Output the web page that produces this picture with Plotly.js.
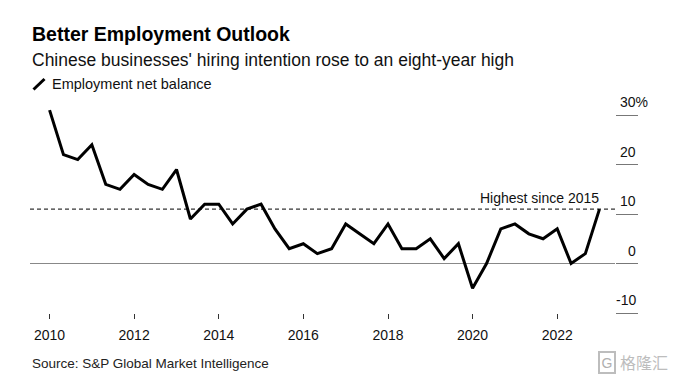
<!DOCTYPE html>
<html>
<head>
<meta charset="utf-8">
<script src="https://cdn.plot.ly/plotly-3.0.1.min.js"></script>
<style>
  html, body { margin: 0; padding: 0; background: #fff; }
  #chart { width: 673px; height: 379px; }
</style>
</head>
<body>
<div id="chart"></div>
<script>
// ---- Data ----
const seriesName = "Employment net balance";
const dates = [
  "2010-01-01","2010-05-01","2010-09-01",
  "2011-01-01","2011-05-01","2011-09-01",
  "2012-01-01","2012-05-01","2012-09-01",
  "2013-01-01","2013-05-01","2013-09-01",
  "2014-01-01","2014-05-01","2014-09-01",
  "2015-01-01","2015-05-01","2015-09-01",
  "2016-01-01","2016-05-01","2016-09-01",
  "2017-01-01","2017-05-01","2017-09-01",
  "2018-01-01","2018-05-01","2018-09-01",
  "2019-01-01","2019-05-01","2019-09-01",
  "2020-01-01","2020-05-01","2020-09-01",
  "2021-01-01","2021-05-01","2021-09-01",
  "2022-01-01","2022-05-01","2022-09-01",
  "2023-01-01"
];
const netBalance = [
  31, 22, 21,
  24, 16, 15,
  18, 16, 15,
  19, 9, 12,
  12, 8, 11,
  12, 7, 3,
  4, 2, 3,
  8, 6, 4,
  8, 3, 3,
  5, 1, 4,
  -5, 0, 7,
  8, 6, 5,
  7, 0, 2,
  11
];
const highestLevel = 11;
const highestLabel = "Highest since 2015";
const xTickVals = ["2010-01-01","2012-01-01","2014-01-01","2016-01-01","2018-01-01","2020-01-01","2022-01-01"];
const xTickText = ["2010","2012","2014","2016","2018","2020","2022"];
const yTickVals = [-10, 0, 10, 20, 30];
const yTickText = ["-10", "0", "10", "20", "30%"];

const titleText = "Better Employment Outlook";
const subtitleText = "Chinese businesses' hiring intention rose to an eight-year high";
const sourceText = "Source: S&P Global Market Intelligence";

// ---- Layout helpers (pixel -> paper) ----
const W = 673, H = 379;
const M = { l: 30, r: 58, t: 100, b: 66 };
const PW = W - M.l - M.r, PH = H - M.t - M.b;
const px = x => (x - M.l) / PW;
const py = y => (H - M.b - y) / PH;

const FONT = '"Liberation Sans", Arial, Helvetica, sans-serif';

const trace = {
  x: dates,
  y: netBalance,
  type: "scatter",
  mode: "lines",
  name: seriesName,
  line: { color: "#000", width: 3 },
  hoverinfo: "skip",
  showlegend: false
};

const annotations = [
  { text: "<b>" + titleText + "</b>", xref: "paper", yref: "paper", x: px(30), y: py(33.5), xanchor: "left", yanchor: "middle", showarrow: false, font: { family: FONT, size: 19.5, color: "#000" } },
  { text: subtitleText, xref: "paper", yref: "paper", x: px(30), y: py(60), xanchor: "left", yanchor: "middle", showarrow: false, font: { family: FONT, size: 17.5, color: "#111" } },
  { text: seriesName, xref: "paper", yref: "paper", x: px(50), y: py(84.5), xanchor: "left", yanchor: "middle", showarrow: false, font: { family: FONT, size: 14.5, color: "#111" } },
  { text: highestLabel, xref: "paper", yref: "y", x: px(601), y: highestLevel, xanchor: "right", yanchor: "middle", yshift: 11, showarrow: false, font: { family: FONT, size: 14, color: "#111" } },
  { text: sourceText, xref: "paper", yref: "paper", x: px(30), y: py(363), xanchor: "left", yanchor: "middle", showarrow: false, font: { family: FONT, size: 13.5, color: "#222" } },
  { text: "G", xref: "paper", yref: "paper", x: px(606.5), y: py(362), xanchor: "center", yanchor: "middle", showarrow: false, font: { family: FONT, size: 14, color: "#b0b0b0" }, bordercolor: "#bdbdbd", borderwidth: 2, borderpad: 1.5 },
  { text: "格隆汇", xref: "paper", yref: "paper", x: px(618), y: py(362), xanchor: "left", yanchor: "middle", showarrow: false, font: { family: '"Noto Sans CJK SC", sans-serif', size: 16, color: "#bdbdbd" } }
];

yTickVals.forEach((v, i) => {
  const t = yTickText[i];
  annotations.push({
    text: t, xref: "paper", yref: "y", x: px(638), y: v,
    xanchor: "right", yanchor: "middle", yshift: 13,
    xshift: t.indexOf("%") >= 0 ? 12 : 0,
    showarrow: false, font: { family: FONT, size: 14, color: "#111" }
  });
});

const shapes = [
  { type: "line", xref: "paper", yref: "y", x0: 0, x1: 1, y0: highestLevel, y1: highestLevel, line: { color: "#000", width: 1, dash: "4px,3px" } },
  { type: "line", xref: "paper", yref: "paper", x0: px(33.5), y0: py(89.5), x1: px(44.5), y1: py(79), line: { color: "#000", width: 3 } }
];

const layout = {
  width: W, height: H,
  margin: M,
  paper_bgcolor: "#fff",
  plot_bgcolor: "#fff",
  font: { family: FONT, color: "#111" },
  showlegend: false,
  xaxis: {
    type: "date",
    range: ["2009-07-16", "2023-05-15"],
    tickvals: xTickVals,
    ticktext: xTickText,
    ticks: "outside",
    ticklen: 5,
    tickwidth: 1,
    tickcolor: "#333",
    ticklabelstandoff: 4,
    tickfont: { family: FONT, size: 14, color: "#111" },
    showgrid: false,
    zeroline: false,
    showline: false,
    fixedrange: true
  },
  yaxis: {
    side: "right",
    range: [-10, 33.05],
    tickvals: yTickVals,
    showticklabels: false,
    ticks: "outside",
    ticklen: 22,
    tickwidth: 1,
    tickcolor: "#777",
    showgrid: false,
    zeroline: true,
    zerolinecolor: "#888",
    zerolinewidth: 1.2,
    showline: false,
    fixedrange: true
  },
  annotations: annotations,
  shapes: shapes
};

Plotly.newPlot("chart", [trace], layout, { displayModeBar: false, staticPlot: true });
</script>
</body>
</html>
